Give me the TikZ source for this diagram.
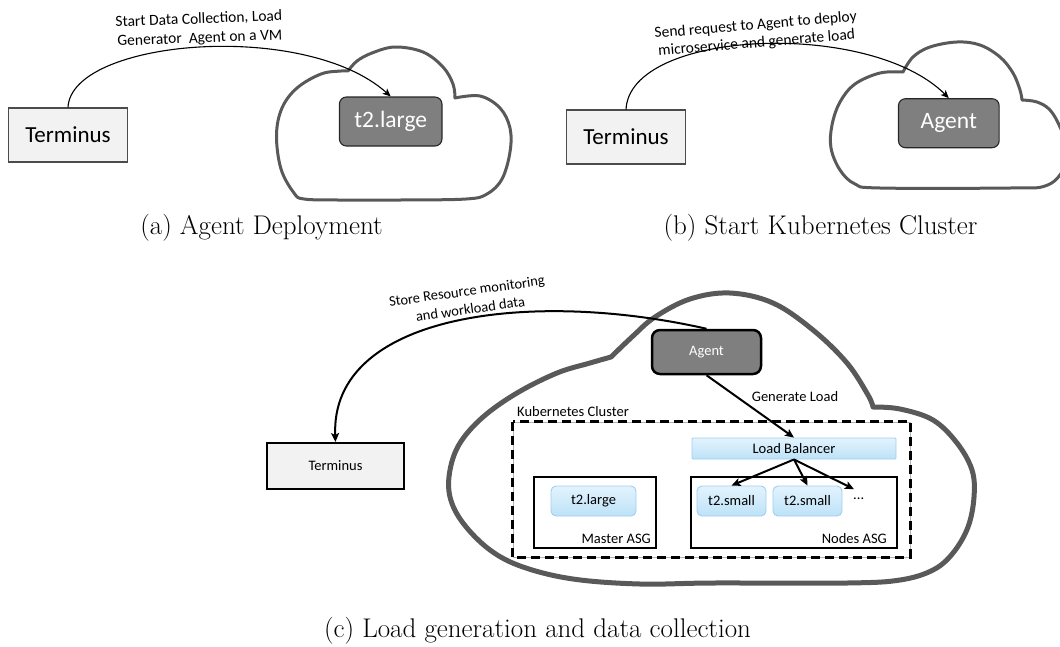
\documentclass[tikz,border=0pt]{standalone}
\usepackage{fontspec}
\newfontfamily\calibri{Carlito}
\usetikzlibrary{arrows.meta,calc}
\definecolor{cloudgray}{HTML}{595959}
\definecolor{termfill}{HTML}{F2F2F2}
\definecolor{darkfill}{HTML}{7F7F7F}
\definecolor{blueline}{HTML}{9DCFEF}
\definecolor{bluetop}{HTML}{E3F3FD}
\definecolor{bluebot}{HTML}{BDE2F8}
\begin{document}
\begin{tikzpicture}[x=1pt,y=-1pt,
  cloudline/.style={draw=cloudgray, line width=3pt, line join=round},
  cloudheavy/.style={draw=cloudgray, line width=5pt, line join=round},
  termbig/.style={draw=black!70, line width=1.1pt, fill=termfill, inner sep=0pt, minimum width=119pt, minimum height=54pt, font=\calibri\fontsize{23}{27}\selectfont},
  darkbig/.style={draw=black!85, line width=1.1pt, fill=darkfill, rounded corners=7pt, inner sep=0pt, minimum height=49pt, text=white, font=\calibri\fontsize{23.5}{27}\selectfont},
  lbl/.style={font=\calibri\fontsize{15.5}{19}\selectfont, inner sep=0pt, anchor=base},
  lblc/.style={font=\calibri\fontsize{14.5}{18}\selectfont, inner sep=0pt, anchor=base},
  thinarrow/.style={line width=1.1pt, -{Stealth[length=8pt,width=7pt,inset=2pt]}},
  thickarrow/.style={line width=2pt, -{Stealth[length=9pt,width=8pt,inset=2pt]}},
  smalltxt/.style={font=\calibri\fontsize{14.5}{18}\selectfont},
  termsmall/.style={draw=black, line width=2pt, fill=termfill, inner sep=0pt, minimum width=137pt, minimum height=46pt, smalltxt},
  darksmall/.style={draw=black, line width=2.5pt, fill=darkfill, rounded corners=8pt, inner sep=0pt, minimum width=109pt, minimum height=44pt, text=white, smalltxt},
  bluebox/.style={draw=blueline, line width=0.9pt, top color=bluetop, bottom color=bluebot, inner sep=0pt, minimum height=30pt, rounded corners=5pt, smalltxt},
  asgbox/.style={draw=black, line width=2.4pt, inner sep=0pt, minimum height=71pt},
  capt/.style={font=\addfontfeatures{LetterSpace=2}\fontsize{27}{31}\selectfont, inner sep=0pt, anchor=base}
]
\useasboundingbox (0,0) rectangle (1060,646);
\clip (0,0) rectangle (1060,646);

% ---------- (a) ----------
\draw[cloudline] plot[smooth,tension=0.6] coordinates {(348,71) (357,61) (372,53) (395,47) (423,52) (443,67) (453,84) (455,98)}
  -- plot[smooth,tension=0.6] coordinates {(455,98) (480,96) (500,108) (510,128) (510,152) (502,179) (487,194) (466,199) (400,200) (338,200) (304,199) (294,193) (281,169) (276.5,135) (282,108) (297,88) (321,74) (341,71) (348,71)} -- cycle;
\node[termbig] (termA) at (68,135) {Terminus};
\node[darkbig, minimum width=102.5pt] (t2a) at (390.7,121.5) {t2.large};
\draw[thinarrow] (termA.north) .. controls ($(termA.north)+(3,-68)$) and ($(t2a.north)+(-86,-77)$) .. (t2a.north);
\node[lbl, rotate=2.2] (labA1) at (199,23.7) {Start Data Collection, Load};
\node[lbl, rotate=2.2] (labA2) at (200,42.7) {Generator\ \ Agent on a VM};
\node[capt] (capA) at (261.5,234) {(a) Agent Deployment};

% ---------- (b) ----------
\draw[cloudline] plot[smooth,tension=0.6] coordinates {(903,72) (913,57) (930,47) (957,42) (980,45) (1000,57) (1013,73) (1020,90) (1022,100)}
  -- plot[smooth,tension=0.6] coordinates {(1022,100) (1037,102) (1050,110) (1060,127) (1068,150) (1062,172) (1045,186) (1010,188) (880,188) (855,184) (840,170) (831,148) (832,125) (840,102) (855,84) (880,73) (903,72)} -- cycle;
\node[termbig] (termB) at (626,137) {Terminus};
\node[darkbig, minimum width=100.7pt] (agentB) at (948.8,123.2) {Agent};
\draw[thinarrow] (termB.north) .. controls ($(termB.north)+(4,-80)$) and ($(agentB.north)+(-79,-79)$) .. (agentB.north);
\node[lbl, rotate=4.8] (labB1) at (756,29.5) {Send request to Agent to deploy};
\node[lbl, rotate=4.8] (labB2) at (757,47.4) {microservice and generate load};
\node[capt] (capB) at (820.5,234) {(b) Start Kubernetes Cluster};

% ---------- (c) ----------
\draw[cloudheavy] plot[smooth,tension=0.6] coordinates {(611,357) (633,336) (655,317) (690,299) (730,293) (773,303) (813,330) (847,363) (868,395) (873,407)}
  -- plot[smooth,tension=0.6] coordinates {(873,407) (900,409) (933,420) (957,443) (972,470) (974,497) (968,527) (953,553) (933,570) (900,580) (847,583) (713,583) (640,584) (573,579) (523,567) (490,550) (463,523) (450,497) (450,470) (460,443) (483,417) (517,393) (557,373) (590,363) (611,357)} -- cycle;

\node[draw=black!30, line width=0.5pt, minimum width=397pt, minimum height=135pt, inner sep=0pt] (k8s) at (711.5,489.5) {};
\draw[line width=2.8pt, dash pattern=on 9pt off 5pt] (k8s.north west) rectangle (k8s.south east);
\node[smalltxt, anchor=west, inner sep=0pt] (klab) at (517,412) {Kubernetes Cluster};

\node[asgbox, minimum width=122pt] (master) at (595,512.5) {};
\node[asgbox, minimum width=206pt] (nodes) at (794,512.5) {};
\node[smalltxt, anchor=base east, inner sep=0pt] (mlab) at (651,543) {Master ASG};
\node[smalltxt, anchor=base east, inner sep=0pt] (nlab) at (887,543) {Nodes ASG};

\node[bluebox, minimum width=204pt, minimum height=21pt, rounded corners=1pt] (lb) at (794,448.5) {Load Balancer};
\node[bluebox, minimum width=85pt] (t2c) at (593.5,501) {t2.large};
\node[bluebox, minimum width=69pt] (s1) at (731.5,501) {t2.small};
\node[bluebox, minimum width=69pt] (s2) at (807.5,501) {t2.small};
\node[smalltxt, anchor=base west, inner sep=0pt] (dots) at (853,499) {...};

\node[termsmall] (termC) at (335.5,466) {Terminus};
\node[darksmall] (agentC) at (706.5,352) {Agent};

\draw[thickarrow] (agentC.north) .. controls ($(agentC.north)+(-176.5,-40)$) and ($(termC.north)+(-5.5,-128)$) .. (termC.north);
\node[lblc, rotate=8] (labC1) at (467.5,295.8) {Store Resource monitoring};
\node[lblc, rotate=8] (labC2) at (471,314) {and workload data};

\draw[thickarrow] (agentC.south) -- (lb.north);
\node[smalltxt] (glab) at (795,397) {Generate Load};
\draw[thickarrow] (lb.south) -- (s1.north);
\draw[thickarrow] (lb.south) -- (s2.north);
\draw[thickarrow] (lb.south) -- ($(dots.north west)+(1,-8)$);

\node[capt] (capC) at (537.5,637) {(c) Load generation and data collection};
\end{tikzpicture}
\end{document}
